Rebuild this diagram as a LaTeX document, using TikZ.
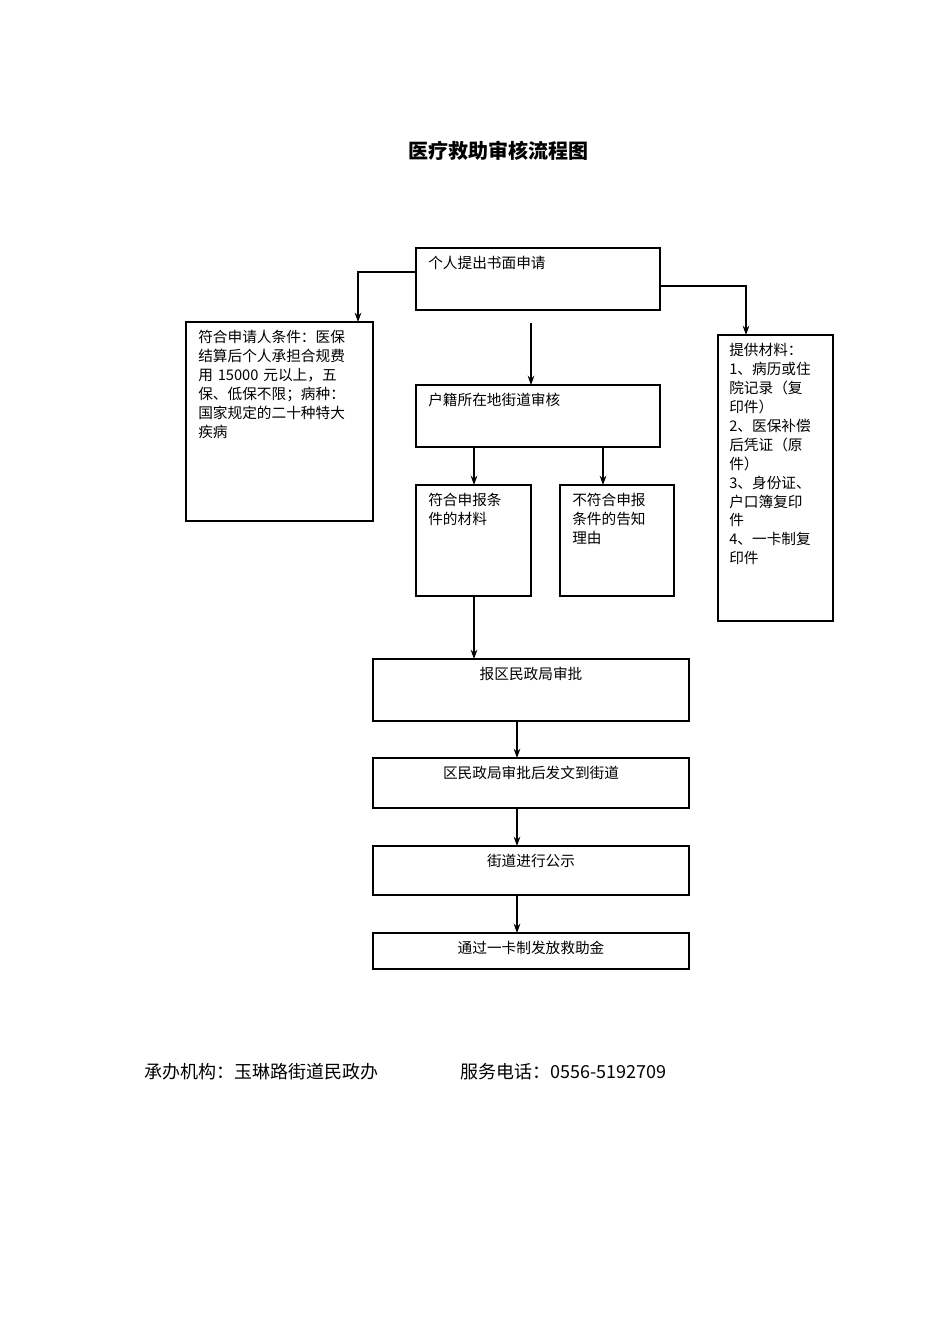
\documentclass[tikz,border=0pt]{standalone}
\usepackage{fontspec}
\setmainfont{Noto Sans CJK SC}
\usetikzlibrary{arrows.meta}
\begin{document}
\begin{tikzpicture}[x=0.75pt,y=-0.75pt,
 box/.style={draw,line width=0.8pt},
 txt/.style={anchor=north west,inner sep=0pt,align=left,font=\fontsize{11}{14.2}\selectfont},
 ctxt/.style={anchor=north,inner sep=0pt,font=\fontsize{11}{14}\selectfont},
 arr/.style={-{Stealth[length=7pt,width=5pt]},line width=0.8pt}]
\useasboundingbox (0,0) rectangle (950,1344);
\node[font=\bfseries\fontsize{15}{18}\selectfont] (title) at (498,151) {医疗救助审核流程图};
\draw[box] (416,248) rectangle (660,310); \coordinate (A) at (416,248);
\node[txt] (at) at (428,256) {个人提出书面申请};
\draw[box] (186,322) rectangle (373,521);
\node[txt,text width=165pt/0.75*0.75] (bt) at (198,330) {符合申请人条件：医保\\结算后个人承担合规费\\用 15000 元以上，五\\保、低保不限；病种：\\国家规定的二十种特大\\疾病};
\draw[box] (718,335) rectangle (833,621);
\node[txt] (ct) at (729,343) {提供材料：\\1、病历或住\\院记录（复\\印件）\\2、医保补偿\\后凭证（原\\件）\\3、身份证、\\户口簿复印\\件\\4、一卡制复\\印件};
\draw[box] (416,385) rectangle (660,447);
\node[txt] (dt) at (428,393) {户籍所在地街道审核};
\draw[box] (416,485) rectangle (531,596);
\node[txt] (et) at (428,493) {符合申报条\\件的材料};
\draw[box] (560,485) rectangle (674,596);
\node[txt] (ft) at (572,493) {不符合申报\\条件的告知\\理由};
\draw[box] (373,659) rectangle (689,721);
\node[ctxt] (gt) at (531,667) {报区民政局审批};
\draw[box] (373,758) rectangle (689,808);
\node[ctxt] (ht) at (531,766) {区民政局审批后发文到街道};
\draw[box] (373,846) rectangle (689,895);
\node[ctxt] (it) at (531,854) {街道进行公示};
\draw[box] (373,933) rectangle (689,969);
\node[ctxt] (jt) at (531,941) {通过一卡制发放救助金};
\coordinate (a1) at (416,272); \coordinate (b1) at (358,322);
\draw[arr] (a1) -| (b1);
\coordinate (a2) at (660,286); \coordinate (c1) at (746,335);
\draw[arr] (a2) -| (c1);
\coordinate (s) at (531,323); \coordinate (d1) at (531,385);
\draw[arr] (s) -- (d1);
\draw[arr] (474,447) -- (474,485);
\draw[arr] (603,447) -- (603,485);
\draw[arr] (474,596) -- (474,659);
\draw[arr] (517,721) -- (517,758);
\draw[arr] (517,808) -- (517,846);
\draw[arr] (517,895) -- (517,933);
\node[anchor=west,inner sep=0pt,font=\fontsize{13.5}{16}\selectfont] (f1) at (144,1072) {承办机构：玉琳路街道民政办};
\node[anchor=west,inner sep=0pt,font=\fontsize{13.5}{16}\selectfont] (f2) at (460,1072) {服务电话：0556-5192709};
\end{tikzpicture}
\end{document}
